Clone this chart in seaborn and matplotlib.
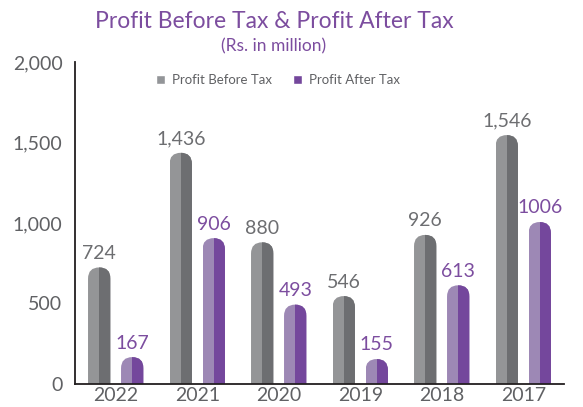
import numpy as np
import pandas as pd
import matplotlib
matplotlib.use('Agg')
import matplotlib.pyplot as plt
import matplotlib.ticker as mticker
from matplotlib.patches import FancyBboxPatch, Rectangle, Patch
import seaborn as sns

# Data (Rs. in million)
years = ['2022', '2021', '2020', '2019', '2018', '2017']
pbt = [724, 1436, 880, 546, 926, 1546]
pat = [167, 906, 493, 155, 613, 1006]
pbt_labels = ['724', '1,436', '880', '546', '926', '1,546']
pat_labels = ['167', '906', '493', '155', '613', '1006']

df = pd.DataFrame({
    'Year': years * 2,
    'Value': pbt + pat,
    'Type': ['Profit Before Tax'] * 6 + ['Profit After Tax'] * 6,
})

grey_light, grey_dark = '#939598', '#6d6e71'
purple_light, purple_dark = '#9d80bc', '#74479c'
title_color = '#7c4d9f'
text_grey = '#606164'

sns.set_style('white')
plt.rcParams['font.family'] = ['Lato', 'DejaVu Sans']

fig = plt.figure(figsize=(5.83, 4.07), dpi=100)
ax = fig.add_axes([75 / 583, 1 - 384 / 407, (564 - 75) / 583, (384 - 62) / 407])

sns.barplot(data=df, x='Year', y='Value', hue='Type', order=years,
            palette=[grey_light, purple_light], width=0.81, gap=0.32,
            legend=False, ax=ax)

ax.set_xlim(-0.5, 5.5)
ax.set_ylim(0, 2000)

# ratio of y data units to x data units per pixel, for rounded tops
p0 = ax.transData.transform((0, 0))
p1 = ax.transData.transform((1, 1))
aspect = (p1[0] - p0[0]) / (p1[1] - p0[1])

darks = [grey_dark, purple_dark]
for ci, cont in enumerate(ax.containers):
    for bar in cont:
        x, w, h = bar.get_x(), bar.get_width(), bar.get_height()
        light = bar.get_facecolor()
        bar.set_visible(False)
        r = w / 2
        for col, x0 in [(light, x), (darks[ci], x + w / 2)]:
            fb = FancyBboxPatch((x, -r * aspect), w, h + r * aspect,
                                boxstyle=f'round,pad=0,rounding_size={r}',
                                mutation_aspect=aspect, facecolor=col,
                                edgecolor='none', zorder=2)
            ax.add_patch(fb)
            clip = Rectangle((x0, 0), w, 3000, transform=ax.transData)
            fb.set_clip_path(clip)

# value labels
for ci, (labels, col) in enumerate([(pbt_labels, grey_dark), (pat_labels, title_color)]):
    for bar, lab in zip(ax.containers[ci], labels):
        ax.annotate(lab, (bar.get_x() + bar.get_width() / 2, bar.get_height()),
                    xytext=(0, 4), textcoords='offset points', ha='center',
                    va='bottom', fontsize=14, color=col)

# axes styling
for s in ['top', 'right']:
    ax.spines[s].set_visible(False)
for s in ['left', 'bottom']:
    ax.spines[s].set_color('#231f20')
    ax.spines[s].set_linewidth(1.3)

ax.set_yticks([0, 500, 1000, 1500, 2000])
ax.yaxis.set_major_formatter(mticker.FuncFormatter(lambda v, p: f'{int(v):,}'))
ax.tick_params(axis='y', direction='in', length=8.5, width=1.3, color='#231f20',
               labelsize=14, labelcolor=text_grey, pad=9)
ax.tick_params(axis='x', which='major', length=0, labelsize=14,
               labelcolor=text_grey, pad=2)
ax.set_xticks(np.arange(-0.5, 6, 1), minor=True)
ax.tick_params(axis='x', which='minor', direction='in', length=6, width=1.3,
               color='#231f20')
ax.set_xlabel('')
ax.set_ylabel('')

# titles
fig.text(0.47, 1 - 22 / 407, 'Profit Before Tax & Profit After Tax',
         ha='center', va='center', fontsize=16.5, color=title_color)
fig.text(0.469, 1 - 46 / 407, '(Rs. in million)', ha='center', va='center',
         fontsize=12.5, color=title_color)

handles = [Patch(facecolor=grey_light, label='Profit Before Tax'),
           Patch(facecolor=purple_dark, label='Profit After Tax')]
fig.legend(handles=handles, loc='center', bbox_to_anchor=(0.477, 1 - 80 / 407),
           ncol=2, frameon=False, fontsize=9.5, handlelength=0.7,
           handleheight=0.7, handletextpad=0.5, columnspacing=1.6,
           labelcolor=text_grey)

fig.savefig('out.png', dpi=100)
